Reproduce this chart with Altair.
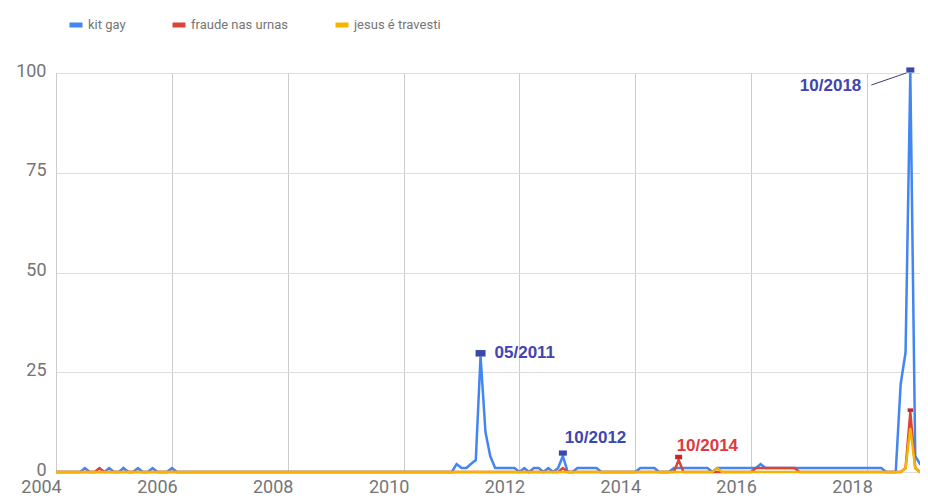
import altair as alt
import pandas as pd

series_names = ["kit gay", "fraude nas urnas", "jesus é travesti"]
series_colors = ["#4285f4", "#db4437", "#f4b400"]

# monthly values, Jan 2004 .. Jan 2019
kit_gay = [
    0, 0, 0, 0, 0, 0, 1, 0, 0, 0, 0, 1,      # 2004
    0, 0, 1, 0, 0, 1, 0, 0, 1, 0, 0, 0,      # 2005
    1, 0, 0, 0, 0, 0, 0, 0, 0, 0, 0, 0,      # 2006
    0, 0, 0, 0, 0, 0, 0, 0, 0, 0, 0, 0,      # 2007
    0, 0, 0, 0, 0, 0, 0, 0, 0, 0, 0, 0,      # 2008
    0, 0, 0, 0, 0, 0, 0, 0, 0, 0, 0, 0,      # 2009
    0, 0, 0, 0, 0, 0, 0, 0, 0, 0, 0, 2,      # 2010
    1, 1, 2, 3, 29, 10, 4, 1, 1, 1, 1, 1,    # 2011
    0, 1, 0, 1, 1, 0, 1, 0, 1, 4, 0, 0,      # 2012
    1, 1, 1, 1, 1, 0, 0, 0, 0, 0, 0, 0,      # 2013
    0, 1, 1, 1, 1, 0, 0, 0, 1, 1, 1, 1,      # 2014
    1, 1, 1, 1, 0, 1, 1, 1, 1, 1, 1, 1,      # 2015
    1, 1, 2, 1, 1, 1, 1, 1, 1, 1, 1, 1,      # 2016
    1, 1, 1, 1, 1, 1, 1, 1, 1, 1, 1, 1,      # 2017
    1, 1, 1, 1, 0, 0, 0, 22, 30, 100, 4, 2,  # 2018
    2,                                       # 2019
]
fraude = [
    0, 0, 0, 0, 0, 0, 0, 0, 0, 1, 0, 0,      # 2004
    0, 0, 0, 0, 0, 0, 0, 0, 0, 0, 0, 0,      # 2005
    0, 0, 0, 0, 0, 0, 0, 0, 0, 0, 0, 0,      # 2006
    0, 0, 0, 0, 0, 0, 0, 0, 0, 0, 0, 0,      # 2007
    0, 0, 0, 0, 0, 0, 0, 0, 0, 0, 0, 0,      # 2008
    0, 0, 0, 0, 0, 0, 0, 0, 0, 0, 0, 0,      # 2009
    0, 0, 0, 0, 0, 0, 0, 0, 0, 0, 0, 0,      # 2010
    0, 0, 0, 0, 0, 0, 0, 0, 0, 0, 0, 0,      # 2011
    0, 0, 0, 0, 0, 0, 0, 0, 0, 1, 0, 0,      # 2012
    0, 0, 0, 0, 0, 0, 0, 0, 0, 0, 0, 0,      # 2013
    0, 0, 0, 0, 0, 0, 0, 0, 0, 3, 0, 0,      # 2014
    0, 0, 0, 0, 0, 0, 0, 0, 0, 0, 0, 0,      # 2015
    0, 1, 1, 1, 1, 1, 1, 1, 1, 1, 0, 0,      # 2016
    0, 0, 0, 0, 0, 0, 0, 0, 0, 0, 0, 0,      # 2017
    0, 0, 0, 0, 0, 0, 0, 0, 1, 15, 1, 0,     # 2018
    0,                                       # 2019
]
jesus = [
    0, 0, 0, 0, 0, 0, 0, 0, 0, 0, 0, 0,      # 2004
    0, 0, 0, 0, 0, 0, 0, 0, 0, 0, 0, 0,      # 2005
    0, 0, 0, 0, 0, 0, 0, 0, 0, 0, 0, 0,      # 2006
    0, 0, 0, 0, 0, 0, 0, 0, 0, 0, 0, 0,      # 2007
    0, 0, 0, 0, 0, 0, 0, 0, 0, 0, 0, 0,      # 2008
    0, 0, 0, 0, 0, 0, 0, 0, 0, 0, 0, 0,      # 2009
    0, 0, 0, 0, 0, 0, 0, 0, 0, 0, 0, 0,      # 2010
    0, 0, 0, 0, 0, 0, 0, 0, 0, 0, 0, 0,      # 2011
    0, 0, 0, 0, 0, 0, 0, 0, 0, 0, 0, 0,      # 2012
    0, 0, 0, 0, 0, 0, 0, 0, 0, 0, 0, 0,      # 2013
    0, 0, 0, 0, 0, 0, 0, 0, 0, 0, 0, 0,      # 2014
    0, 0, 0, 0, 0, 1, 0, 0, 0, 0, 0, 0,      # 2015
    0, 0, 0, 0, 0, 0, 0, 0, 0, 0, 0, 0,      # 2016
    0, 0, 0, 0, 0, 0, 0, 0, 0, 0, 0, 0,      # 2017
    0, 0, 0, 0, 0, 0, 0, 0, 1, 11, 1, 0,     # 2018
    0,                                       # 2019
]

# annotated peaks: (label, month, series)
ann_labels = ["05/2011", "10/2012", "10/2014", "10/2018"]
ann_months = ["2011-05-01", "2012-10-01", "2014-10-01", "2018-10-01"]
ann_series = ["kit gay", "kit gay", "fraude nas urnas", "kit gay"]
extra_marker_month = "2018-10-01"
extra_marker_series = "fraude nas urnas"

year_ticks = [2004, 2006, 2008, 2010, 2012, 2014, 2016, 2018]
y_ticks = [0, 25, 50, 75, 100]

dates = [f"{2004 + i // 12}-{i % 12 + 1:02d}-01" for i in range(len(kit_gay))]
rows = []
for name, vals in zip(series_names, [kit_gay, fraude, jesus]):
    for d, v in zip(dates, vals):
        rows.append({"date": d, "series": name, "value": v})
df = pd.DataFrame(rows)

lookup = {(r["series"], r["date"]): r["value"] for r in rows}

# the visible window ends at the page's right edge (early Dec 2018); the last
# month still draws past it and is cut by the page, as in the reference
x_enc = alt.X(
    "date:T",
    scale=alt.Scale(
        type="utc",
        domain=[alt.DateTime(year=2004, month=1, date=1, utc=True),
                alt.DateTime(year=2018, month=12, date=1, utc=True)],
    ),
    axis=alt.Axis(
        title=None,
        values=[alt.DateTime(year=y, month=1, date=1, utc=True) for y in year_ticks],
        format="%Y",
        grid=True, gridColor="#cccccc", gridWidth=1,
        ticks=False, domain=False,
        labelFont="Roboto", labelFontSize=18, labelColor="#757575",
        labelOffset=-15, labelPadding=6, labelFlush=False, labelOverlap=False,
    ),
)
y_enc = alt.Y(
    "value:Q",
    scale=alt.Scale(domain=[0, 100], nice=False),
    axis=alt.Axis(
        title=None, values=y_ticks,
        grid=True, gridColor="#dddddd", gridWidth=1,
        ticks=False, domain=True, domainColor="#cccccc",
        labelFont="Roboto", labelFontSize=18, labelColor="#757575",
        labelPadding=10, labelOffset=-2,
    ),
)
color_enc = alt.Color(
    "series:N",
    scale=alt.Scale(domain=series_names, range=series_colors),
    legend=alt.Legend(
        orient="none", legendX=11, legendY=-57, direction="horizontal",
        title=None, symbolType="stroke", symbolStrokeWidth=5, symbolSize=169,
        labelFont="Roboto", labelFontSize=13, labelColor="#757575",
        columnPadding=36, labelOffset=3, padding=0,
    ),
)

base = alt.Chart(df)
lines = [
    base.transform_filter(alt.datum.series == name)
    .mark_line(strokeWidth=2.5, interpolate="linear")
    .encode(x=x_enc, y=y_enc, color=color_enc)
    for name in series_names
]

ann_style = {
    "05/2011": dict(color="#4045b0", dx=14, dy=-3, align="left", size=100),
    "10/2012": dict(color="#4045b0", dx=2, dy=-18, align="left", size=64),
    "10/2014": dict(color="#e0393e", dx=-2, dy=-14, align="left", size=49),
    "10/2018": dict(color="#4045b0", dx=-49, dy=13, align="right", size=64),
}
marker_colors = {"kit gay": "#3949ab", "fraude nas urnas": "#c62828"}
rect_shape = "M-1,-0.65L1,-0.65L1,0.65L-1,0.65Z"

layers = list(lines)
for lab, m, s in zip(ann_labels, ann_months, ann_series):
    st = ann_style[lab]
    adf = pd.DataFrame([{"date": m, "value": lookup[(s, m)], "label": lab}])
    layers.append(
        alt.Chart(adf).mark_point(shape=rect_shape, filled=True, opacity=1,
                                  size=st["size"], color=marker_colors[s], yOffset=-3)
        .encode(x=alt.X("date:T"), y=alt.Y("value:Q"))
    )
    layers.append(
        alt.Chart(adf).mark_text(font="Liberation Sans", fontWeight="bold", fontSize=17,
                                 color=st["color"], dx=st["dx"], dy=st["dy"],
                                 align=st["align"], baseline="middle")
        .encode(x=alt.X("date:T"), y=alt.Y("value:Q"), text="label:N")
    )

edf = pd.DataFrame([{"date": extra_marker_month,
                     "value": lookup[(extra_marker_series, extra_marker_month)]}])
layers.append(
    alt.Chart(edf).mark_point(shape=rect_shape, filled=True, opacity=1, size=30,
                              color=marker_colors[extra_marker_series], yOffset=-2)
    .encode(x=alt.X("date:T"), y=alt.Y("value:Q"))
)

# leader line of the 10/2018 annotation
ldf = pd.DataFrame([{"date": ann_months[3], "value": lookup[(ann_series[3], ann_months[3])]}])
layers.append(
    alt.Chart(ldf).mark_rule(color="#3a3f7a", strokeWidth=1, xOffset=-4, x2Offset=-39,
                             yOffset=0, y2Offset=12)
    .encode(x=alt.X("date:T"), x2="date:T", y=alt.Y("value:Q"), y2="value:Q")
)

chart = (
    alt.layer(*layers)
    .properties(
        width=864, height=399,
        autosize=alt.AutoSizeParams(type="none"),
        padding={"left": 48, "top": 65, "right": 0, "bottom": 23},
        background="white",
    )
    .configure_view(strokeWidth=0)
)

chart.save("out.html", embed_options={"renderer": "svg", "actions": False})
